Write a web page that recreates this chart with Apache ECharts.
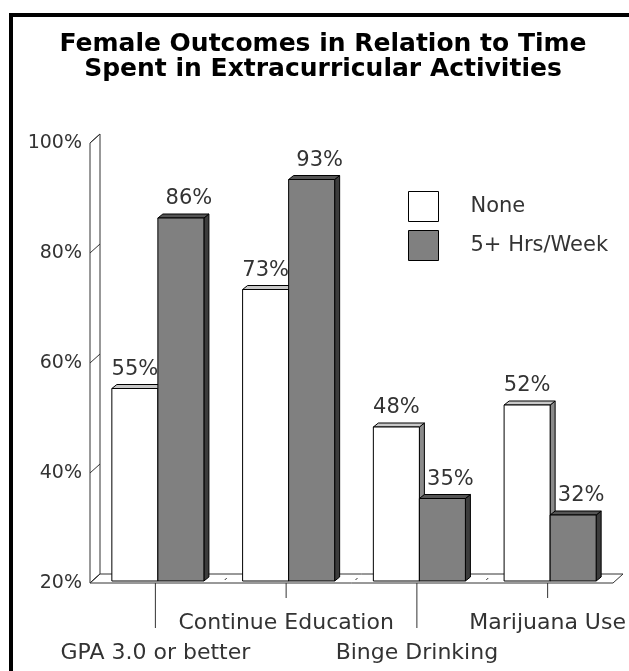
<!DOCTYPE html>
<html><head><meta charset="utf-8">
<script src="https://cdn.jsdelivr.net/npm/echarts@6/dist/echarts.min.js"></script>
<style>html,body{margin:0;padding:0;background:#fff}#c{width:629px;height:671px}</style>
</head><body><div id="c"></div>
<script>
const titleText = 'Female Outcomes in Relation to Time\nSpent in Extracurricular Activities';
const categories = ['GPA 3.0 or better', 'Continue Education', 'Binge Drinking', 'Marijuana Use'];
const seriesNames = ['None', '5+ Hrs/Week'];
const noneValues = [55, 73, 48, 52];
const hrsValues = [86, 93, 35, 32];
const yTicks = [20, 40, 60, 80, 100];

const FONT = 'DejaVu Sans';
const DEPTH = [10, -9];
const BAR_SHIFT = [2.5, -2];
const BAR_DEPTH = [5, -4];
const BAR_FRAC = 0.352;

const chart = echarts.init(document.getElementById('c'), null, {renderer: 'canvas'});

function barRender(seriesIdx, faceColor, topColor, sideColor, labelDx) {
  return function (params, api) {
    const cat = api.value(0), val = api.value(1);
    const band = api.size([1, 0])[0];
    const w = band * BAR_FRAC;
    const c = api.coord([cat, val]);
    const b = api.coord([cat, yTicks[0]]);
    const x0 = c[0] - w + seriesIdx * w + BAR_SHIFT[0];
    const yT = c[1] + BAR_SHIFT[1];
    const yB = b[1] + BAR_SHIFT[1];
    const dx = BAR_DEPTH[0], dy = BAR_DEPTH[1];
    return {type: 'group', children: [
      {type: 'polygon', shape: {points: [[x0 + w, yT], [x0 + w + dx, yT + dy], [x0 + w + dx, yB + dy], [x0 + w, yB]]},
        style: {fill: sideColor, stroke: '#000', lineWidth: 1}},
      {type: 'polygon', shape: {points: [[x0, yT], [x0 + dx, yT + dy], [x0 + w + dx, yT + dy], [x0 + w, yT]]},
        style: {fill: topColor, stroke: '#000', lineWidth: 1}},
      {type: 'rect', shape: {x: x0, y: yT, width: w, height: yB - yT},
        style: {fill: faceColor, stroke: '#000', lineWidth: 1}},
      {type: 'text', x: x0 + w / 2 + labelDx, y: yT - 19,
        style: {text: val + '%', font: '21px "DejaVu Sans"', fill: '#333', align: 'center', verticalAlign: 'middle'}}
    ]};
  };
}

function decorRender(params, api) {
  const band = api.size([1, 0])[0];
  const p0 = api.coord([0, yTicks[0]]);
  const p3 = api.coord([categories.length - 1, yTicks[0]]);
  const left = p0[0] - band / 2, right = p3[0] + band / 2;
  const yBase = p0[1];
  const yTop = api.coord([0, yTicks[yTicks.length - 1]])[1];
  const dx = DEPTH[0], dy = DEPTH[1];
  const st = {stroke: '#333', lineWidth: 1};
  const ch = [];
  ch.push({type: 'polygon', shape: {points: [[left, yBase], [left, yTop], [left + dx, yTop + dy], [left + dx, yBase + dy]]},
    style: {fill: '#fff', stroke: '#333', lineWidth: 1}});
  ch.push({type: 'polygon', shape: {points: [[left, yBase], [left + dx, yBase + dy], [right + dx, yBase + dy], [right, yBase]]},
    style: {fill: '#fff', stroke: '#333', lineWidth: 1}});
  yTicks.forEach(v => {
    const y = api.coord([0, v])[1];
    ch.push({type: 'line', shape: {x1: left, y1: y, x2: left + dx, y2: y + dy}, style: st});
  });
  categories.forEach((c, i) => {
    const x = api.coord([i, yTicks[0]])[0];
    const len = i % 2 === 0 ? 45 : 15;
    ch.push({type: 'line', shape: {x1: x, y1: yBase, x2: x, y2: yBase + len}, style: st});
  });
  for (let i = 1; i < categories.length; i++) {
    const x = left + band * i;
    ch.push({type: 'line', shape: {x1: x + 4, y1: yBase - 3, x2: x + 6, y2: yBase - 5}, style: st});
  }
  return {type: 'group', children: ch};
}

const option = {
  animation: false,
  backgroundColor: '#fff',
  title: {
    text: titleText, left: 318, top: 27, textAlign: 'center',
    textStyle: {fontFamily: FONT, fontWeight: 'bold', fontSize: 25, lineHeight: 25, color: '#000'}
  },
  legend: {
    orient: 'vertical', left: 403, top: 186, itemWidth: 30, itemHeight: 30, itemGap: 8,
    icon: 'rect', data: seriesNames,
    itemStyle: {borderColor: '#000', borderWidth: 1},
    textStyle: {fontFamily: FONT, fontSize: 21, color: '#333', padding: [0, 0, 0, 27]}
  },
  grid: {left: 90, right: 16, top: 143, bottom: 88},
  xAxis: {
    type: 'category', data: categories,
    axisLine: {show: false}, axisTick: {show: false}, splitLine: {show: false},
    axisLabel: {interval: 0, margin: 25, lineHeight: 30, fontFamily: FONT, fontSize: 22, color: '#333',
      formatter: (v, i) => (i % 2 === 0 ? '\n' + v : v)}
  },
  yAxis: {
    type: 'value', min: 20, max: 100, interval: 20,
    axisLine: {show: false}, axisTick: {show: false}, splitLine: {show: false},
    axisLabel: {formatter: '{value}%', margin: 8, fontFamily: FONT, fontSize: 19, color: '#333', padding: [4, 0, 0, 0]}
  },
  graphic: [{type: 'rect', shape: {x: 11, y: 15, width: 640, height: 680},
    style: {fill: 'none', stroke: '#000', lineWidth: 4}, z: 100}],
  series: [
    {type: 'custom', name: 'decor', z: 1, silent: true, data: [[0, 20]], renderItem: decorRender},
    {type: 'custom', name: seriesNames[0], z: 2, itemStyle: {color: '#ffffff'},
      data: noneValues.map((v, i) => [i, v]), encode: {x: 0, y: 1},
      renderItem: barRender(0, '#ffffff', '#c8c8c8', '#8a8a8a', 0)},
    {type: 'custom', name: seriesNames[1], z: 3, itemStyle: {color: '#808080'},
      data: hrsValues.map((v, i) => [i, v]), encode: {x: 0, y: 1},
      renderItem: barRender(1, '#808080', '#555555', '#3c3c3c', 8)}
  ]
};
chart.setOption(option);
</script>
</body></html>
